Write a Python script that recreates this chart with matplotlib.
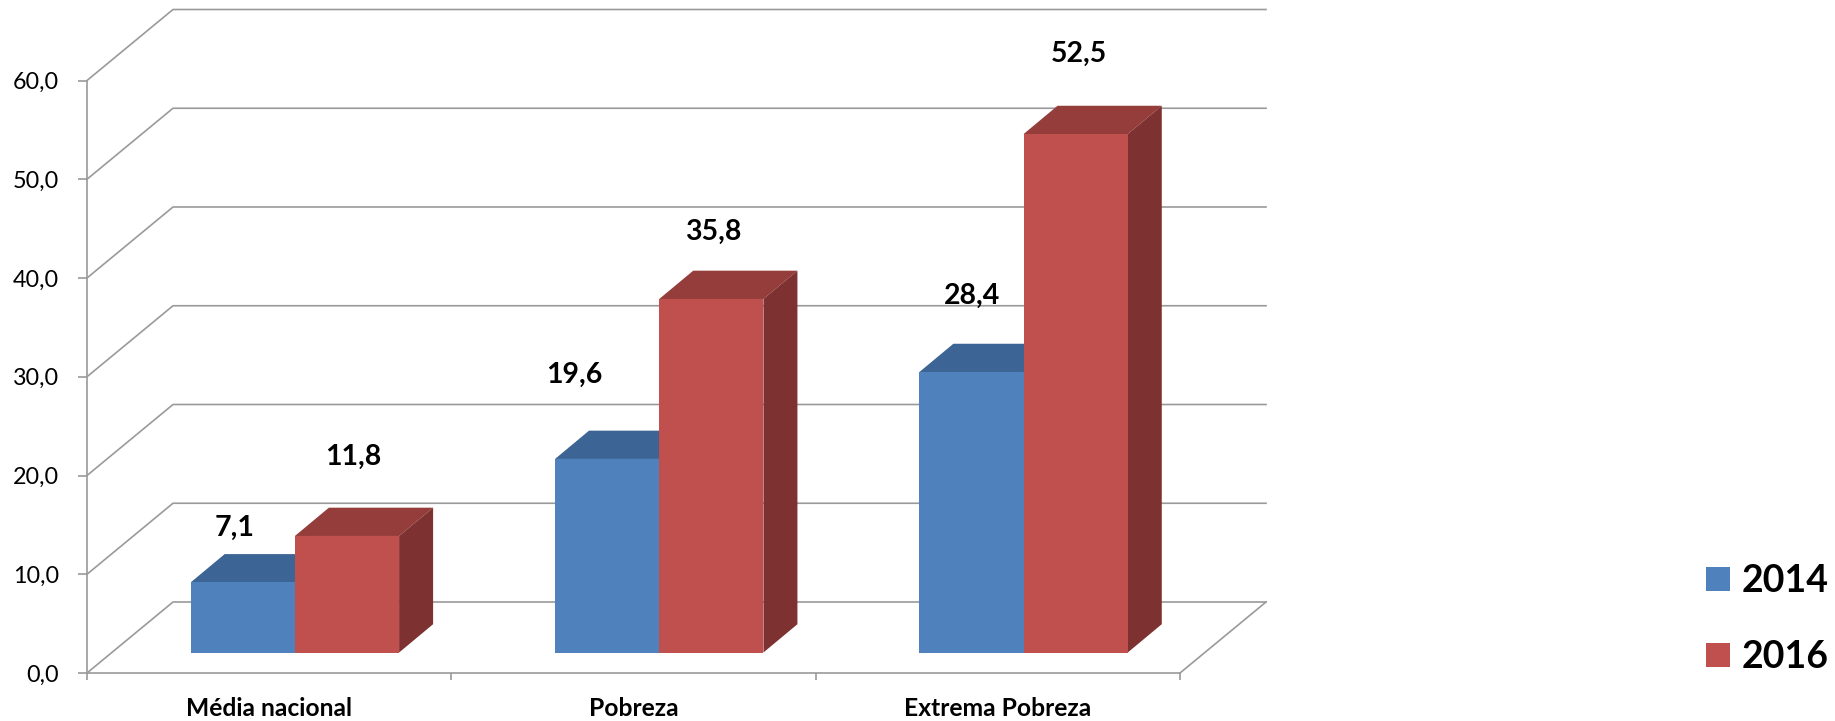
import matplotlib
matplotlib.use("Agg")
import matplotlib.pyplot as plt
from matplotlib.patches import Polygon, Rectangle

categories = ["Média nacional", "Pobreza", "Extrema Pobreza"]
series_names = ["2014", "2016"]
values_2014 = [7.1, 19.6, 28.4]
values_2016 = [11.8, 35.8, 52.5]
yticks = [0, 10, 20, 30, 40, 50, 60]

# Hand placement of the data labels, in pixels (right, down)
label_nudge = [[(0, 27), (-25, -3), (9, 5)], [(15, 2), (10, 14), (12, 1)]]

W, H = 1835, 721
K = 1835 / 1565
plt.rcParams["font.family"] = ["Lato", "DejaVu Sans"]
fig = plt.figure(figsize=(W / 100, H / 100), dpi=100)

L, R, T, B = 87, 1180, 80.5, 673
ax = fig.add_axes([L / W, 1 - B / H, (R - L) / W, (B - T) / H])
ax.set_xlim(0, 3)
ax.set_ylim(0, 60)
PX = 3 / (R - L)
PY = 60 / (B - T)
ax.patch.set_visible(False)
for s in ["top", "right"]:
    ax.spines[s].set_visible(False)
GRID = "#9a9a9a"
for s in ["left", "bottom"]:
    ax.spines[s].set_color(GRID)
    ax.spines[s].set_linewidth(1.2)

# Depth of the floor and of the bars
wall_dx, wall_dy = 86 * PX, 71 * PY
bar_base_dy = 20.5 * PY
bar_dx, bar_dy = 34 * PX, 28.3 * PY
bar_w = 104.2 * PX
bar_left = (190.7 - L) * PX

for t in yticks:
    ax.plot([0, wall_dx, 3 + wall_dx], [t, t + wall_dy, t + wall_dy],
            color=GRID, lw=1.2, clip_on=False, zorder=1)
ax.plot([3, 3 + wall_dx], [0, wall_dy], color=GRID, lw=1.2, clip_on=False, zorder=1)

colors = [("#4f81bd", "#3c6494", "#345a86"), ("#c0504d", "#953d3b", "#7d3130")]
for s, vals in enumerate([values_2014, values_2016]):
    front, top, side = colors[s]
    for i, v in enumerate(vals):
        x0 = i + bar_left + s * bar_w
        ax.bar(x0, v, bar_w, bottom=bar_base_dy, align="edge", color=front, zorder=3 + i + s * 0.1, clip_on=False)
        y1 = v + bar_base_dy
        x1 = x0 + bar_w
        ax.add_patch(Polygon([(x0, y1), (x1, y1), (x1 + bar_dx, y1 + bar_dy), (x0 + bar_dx, y1 + bar_dy)],
                             color=top, lw=0, zorder=2.9 + i + s * 0.1, clip_on=False))
        ax.add_patch(Polygon([(x1, bar_base_dy), (x1, y1), (x1 + bar_dx, y1 + bar_dy), (x1 + bar_dx, bar_base_dy + bar_dy)],
                             color=side, lw=0, zorder=2.9 + i + s * 0.1, clip_on=False))
        nx, ny = label_nudge[s][i]
        ax.text(x0 + bar_w * 0.42 + nx * PX, y1 + bar_dy + (45 * K - ny) * PY, f"{v:.1f}".replace(".", ","),
                ha="center", va="center", fontsize=20.5, fontweight="bold", color="black", zorder=10)

ax.set_xticks([0, 1, 2, 3])
ax.set_xticklabels([])
ax.set_yticks(yticks)
ax.set_yticklabels([f"{t:.1f}".replace(".", ",") for t in yticks], fontsize=16.8)
ax.tick_params(axis="y", color=GRID, length=6.5, width=1.2, pad=13.5)
ax.tick_params(axis="x", color=GRID, length=5, width=1.2)
for i, c in enumerate(categories):
    ax.text(i + 0.5, -35 * PY, c, ha="center", va="center", fontsize=17.7, fontweight="bold", clip_on=False)

# Legend
leg = fig.add_axes([0, 0, 1, 1])
leg.set_xlim(0, W)
leg.set_ylim(H, 0)
leg.axis("off")
for (front, _, _), name, yc in zip(colors, series_names, [579, 655]):
    leg.add_patch(Rectangle((1706, yc - 12), 24, 24, color=front, lw=0))
    leg.text(1742, yc + 2, name, ha="left", va="center", fontsize=27, fontweight="bold")

fig.savefig("out.png", dpi=100)
